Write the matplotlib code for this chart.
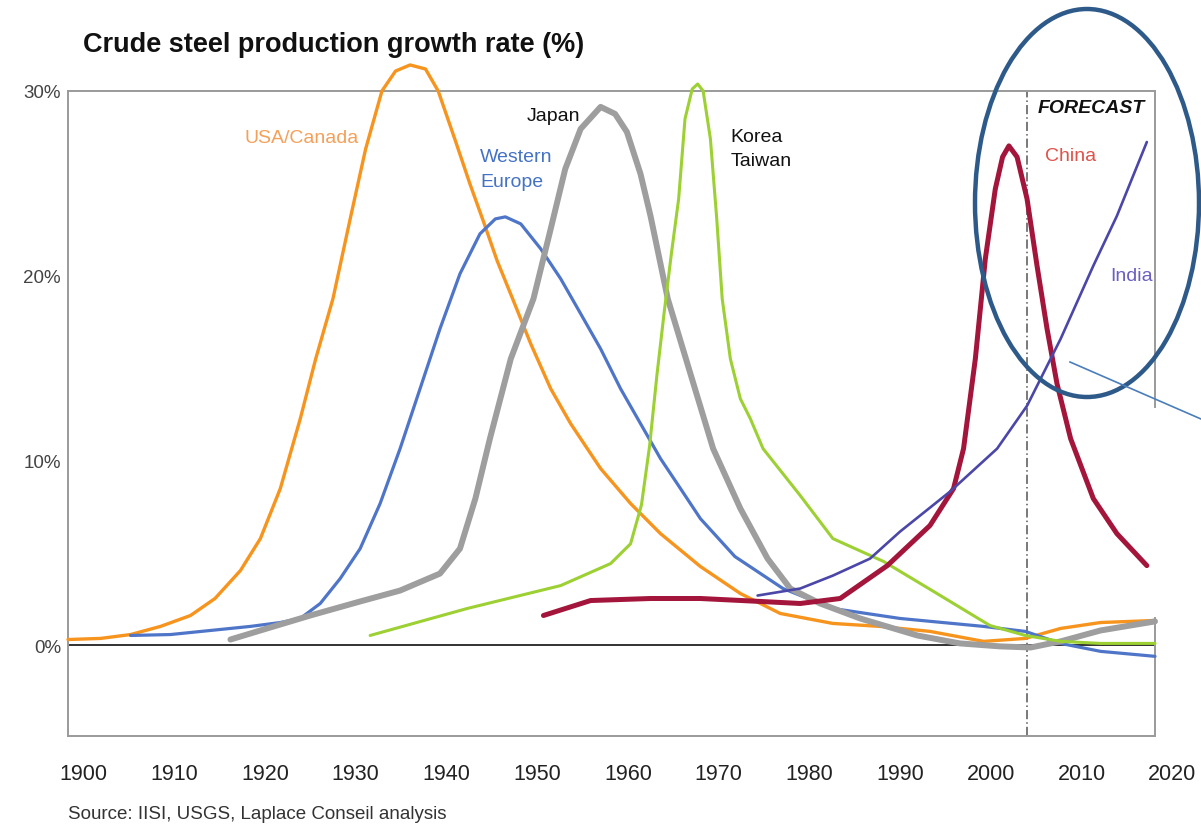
import numpy as np
import matplotlib
matplotlib.use("Agg")
import matplotlib.pyplot as plt
from matplotlib.patches import Ellipse
from matplotlib.lines import Line2D
from matplotlib.transforms import blended_transform_factory

plt.rcParams["font.family"] = ["Liberation Sans", "DejaVu Sans"]

# ---------------- data ----------------
usa_years = [1898.3, 1901.9, 1905.2, 1908.5, 1911.8, 1914.5, 1917.3, 1919.5, 1921.7, 1923.9,
             1925.6, 1927.5, 1929.4, 1931.1, 1932.9, 1934.4, 1936.0, 1937.7, 1939.1, 1941.0,
             1942.6, 1944.1, 1945.6, 1947.3, 1949.3, 1951.5, 1953.7, 1957.0, 1960.3, 1963.6,
             1968.0, 1972.4, 1976.8, 1982.6, 1987.8, 1993.3, 1999.2, 2003.8, 2007.7, 2012.1, 2018.1]
usa_vals = [0.32, 0.38, 0.59, 1.03, 1.62, 2.54, 4.05, 5.78, 8.49, 12.27,
            15.51, 18.76, 23.08, 26.86, 30.0, 31.08, 31.41, 31.19, 30.0, 27.3,
            24.97, 22.92, 20.81, 18.76, 16.32, 13.89, 12.0, 9.57, 7.68, 6.05,
            4.27, 2.81, 1.73, 1.19, 1.03, 0.76, 0.22, 0.38, 0.92, 1.24, 1.35]

weu_years = [1905.2, 1909.6, 1914.0, 1918.4, 1921.7, 1923.9, 1926.1, 1928.3, 1930.5, 1932.7,
             1934.9, 1937.1, 1939.3, 1941.5, 1943.7, 1945.4, 1946.5, 1948.2, 1950.4, 1952.6,
             1954.8, 1957.0, 1959.2, 1961.4, 1963.6, 1965.8, 1968.0, 1971.8, 1977.1, 1982.6,
             1990.0, 1999.2, 2003.8, 2007.7, 2012.1, 2018.1]
weu_vals = [0.54, 0.59, 0.81, 1.03, 1.24, 1.46, 2.27, 3.62, 5.24, 7.68,
            10.65, 13.89, 17.14, 20.11, 22.27, 23.08, 23.19, 22.81, 21.46, 19.84,
            17.95, 16.05, 13.89, 12.0, 10.11, 8.49, 6.86, 4.81, 3.08, 2.0,
            1.46, 1.03, 0.76, 0.11, -0.32, -0.59]

jpn_years = [1916.2, 1919.5, 1925.0, 1930.5, 1934.9, 1939.3, 1941.5, 1943.2, 1944.8, 1947.1,
             1949.6, 1951.5, 1953.1, 1954.8, 1957.0, 1958.6, 1959.9, 1961.4, 1962.5, 1964.4,
             1966.9, 1969.4, 1972.4, 1975.4, 1977.9, 1981.2, 1985.6, 1991.9, 1996.6, 2001.0,
             2004.4, 2007.7, 2012.1, 2018.1]
jpn_vals = [0.32, 0.81, 1.62, 2.38, 2.97, 3.89, 5.24, 7.95, 11.19, 15.51,
            18.76, 22.54, 25.78, 27.95, 29.14, 28.76, 27.78, 25.51, 23.24, 18.76,
            14.70, 10.65, 7.41, 4.70, 3.08, 2.27, 1.46, 0.54, 0.11, -0.05,
            -0.11, 0.22, 0.81, 1.30]

kor_years = [1931.6, 1942.3, 1952.6, 1958.1, 1960.3, 1961.5, 1962.4, 1963.2, 1964.0, 1964.8,
             1965.6, 1966.3, 1967.1, 1967.7, 1968.3, 1969.1, 1969.8, 1970.4, 1971.3, 1972.4,
             1973.5, 1974.9, 1979.0, 1982.6, 1988.2, 1993.7, 1999.9, 2003.8, 2007.7, 2012.1,
             2018.1]
kor_vals = [0.54, 2.0, 3.24, 4.43, 5.50, 7.60, 10.80, 14.60, 18.00, 21.20,
            24.16, 28.49, 30.11, 30.38, 30.0, 27.41, 23.08, 18.76, 15.51, 13.35,
            12.27, 10.65, 8.11, 5.78, 4.54, 2.92, 1.08, 0.54, 0.22, 0.11,
            0.11]

chn_years = [1950.7, 1955.9, 1962.5, 1968.0, 1974.6, 1979.0, 1983.4, 1988.6, 1993.3, 1995.9,
             1997.0, 1998.3, 1999.4, 2000.5, 2001.3, 2002.0, 2002.9, 2004.0, 2005.1, 2006.2,
             2007.3, 2008.8, 2011.3, 2013.9, 2017.2]
chn_vals = [1.62, 2.43, 2.54, 2.54, 2.38, 2.27, 2.54, 4.32, 6.49, 8.49,
            10.65, 15.51, 20.92, 24.70, 26.43, 27.03, 26.43, 24.16, 20.54, 17.14,
            14.16, 11.19, 7.95, 6.05, 4.32]

ind_years = [1974.3, 1979.0, 1982.6, 1986.7, 1990.0, 1995.5, 2000.7, 2004.0, 2007.7, 2011.3,
             2013.9, 2017.2]
ind_vals = [2.70, 3.08, 3.78, 4.70, 6.16, 8.32, 10.65, 12.97, 16.59, 20.54,
            23.24, 27.24]

x_tick_years = [1900, 1910, 1920, 1930, 1940, 1950, 1960, 1970, 1980, 1990, 2000, 2010, 2020]
y_ticks = [0, 10, 20, 30]
y_tick_labels = ["0%", "10%", "20%", "30%"]
forecast_year = 2004.0

# ---------------- figure ----------------
W, H = 1201, 829
fig = plt.figure(figsize=(W / 100, H / 100), dpi=100)
ax = fig.add_axes([68 / W, 1 - 737 / H, (1155 - 68) / W, (737 - 92) / H])
ax.set_xlim(1898.3, 2018.1)
ax.set_ylim(-4.9, 30)

for s in ax.spines.values():
    s.set_color("#9a9a9a")
    s.set_linewidth(1.4)
# right border has a gap in the original
ax.spines["right"].set_visible(False)
ax.plot([1, 1], [1.0, 0.51], transform=ax.transAxes, color="#9a9a9a", lw=1.4, clip_on=False)
ax.plot([1, 1], [0.183, 0.0], transform=ax.transAxes, color="#9a9a9a", lw=1.4, clip_on=False)

ax.axhline(0, color="#222222", lw=1.3, zorder=1)
ax.axvline(forecast_year, color="#555555", lw=1.1, ls=(0, (6, 2, 1, 2)), zorder=1)

series = [
    (usa_years, usa_vals, "#F7941D", 2.4),
    (weu_years, weu_vals, "#4F75C9", 2.3),
    (jpn_years, jpn_vals, "#9E9E9E", 4.3),
    (kor_years, kor_vals, "#9DD033", 2.2),
    (chn_years, chn_vals, "#A3153A", 3.6),
    (ind_years, ind_vals, "#4B47A8", 1.9),
]
for xs, ys, col, lw in series:
    ax.plot(xs, ys, color=col, lw=lw, solid_capstyle="round",
            solid_joinstyle="round", clip_on=False, zorder=3)

# ticks
ax.set_xticks([])
ax.set_yticks(y_ticks)
ax.set_yticklabels(y_tick_labels, fontsize=13.5, color="#444444")
ax.tick_params(axis="y", length=0, pad=5)
trans = blended_transform_factory(ax.transData, ax.transAxes)
for yr in x_tick_years:
    ax.text(yr, -0.058, str(yr), transform=trans, ha="center", va="center",
            fontsize=15.5, color="#222222", clip_on=False)

# series labels
lab = dict(fontsize=14, va="center")
ax.text(1917.7, 27.5, "USA/Canada", color="#F5A05A", **lab)
ax.text(1943.7, 25.8, "Western\nEurope", color="#4472C4", linespacing=1.6, **lab)
ax.text(1954.8, 28.7, "Japan", color="#111111", ha="right", **lab)
ax.text(1971.3, 26.9, "Korea\nTaiwan", color="#111111", linespacing=1.5, **lab)
ax.text(2006.0, 26.5, "China", color="#E0524A", **lab)
ax.text(2013.2, 20.0, "India", color="#6B5FC0", **lab)
ax.text(2005.2, 29.1, "FORECAST", color="#111111", fontweight="bold",
        fontstyle="italic", **lab)

# title and source
fig.text(83 / W, 1 - 45 / H, "Crude steel production growth rate (%)",
         fontsize=19.5, fontweight="bold", color="#111111", va="center")
fig.text(68 / W, 1 - 815 / H, "Source: IISI, USGS, Laplace Conseil analysis",
         fontsize=13.5, color="#333333", va="center")

# highlight ellipse and pointer line
fig.add_artist(Ellipse((1087 / W, 1 - 204 / H), 224 / W, 388 / H,
                       transform=fig.transFigure, fill=False,
                       edgecolor="#2E5A8A", lw=3.2, zorder=10))
fig.add_artist(Line2D([1070 / W, 1201 / W], [1 - 363 / H, 1 - 420 / H],
                      transform=fig.transFigure, color="#4A7EBB", lw=1.2, zorder=10))

fig.savefig("out.png", dpi=100)
